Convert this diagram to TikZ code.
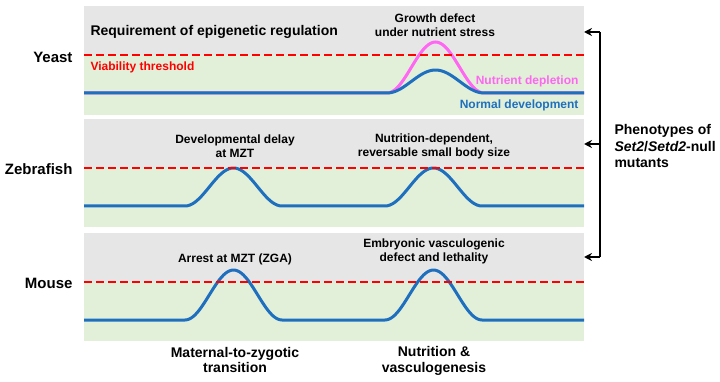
\documentclass[tikz,border=0pt]{standalone}
\usepackage{fontspec}
\setmainfont{Liberation Sans}
\usetikzlibrary{arrows.meta}

\definecolor{panelgray}{HTML}{E7E6E6}
\definecolor{panelgreen}{HTML}{E2F0D9}
\definecolor{curveblue}{HTML}{1F6FBF}
\definecolor{curvepink}{HTML}{FF66F2}

\tikzset{
  species/.style={anchor=east, font=\fontsize{15}{17}\selectfont\bfseries},
  note/.style={align=center, font=\fontsize{12}{14}\selectfont\bfseries},
  axislabel/.style={align=center, font=\fontsize{14}{15.5}\selectfont\bfseries},
  threshold/.style={red, line width=2.8pt, dash pattern=on 8pt off 4pt},
  profile/.style={curveblue, line width=3pt, line join=round},
  pointer/.style={line width=2pt, -{Stealth[length=8pt,width=8pt]}},
}

% bump profile: style, base y, start x, peak height
\newcommand{\bumpline}[4]{%
  \draw[#1] (84,#2) -- (#3,#2)
    -- plot[domain=0:1, samples=41] ({#3+97*\x},{#2-#4*(1-cos(360*\x))/2})
    -- (584,#2);
}
% two bumps on one line: base y, peak height
\newcommand{\twobumps}[2]{%
  \draw[profile] (84,#1) -- (185,#1)
    -- plot[domain=0:1, samples=41] ({185+97*\x},{#1-#2*(1-cos(360*\x))/2})
    -- (385,#1)
    -- plot[domain=0:1, samples=41] ({385+97*\x},{#1-#2*(1-cos(360*\x))/2})
    -- (584,#1);
}

\begin{document}
\begin{tikzpicture}[x=1pt, y=-1pt]
    \useasboundingbox (0,0) rectangle (720,382);

    % Panels: grey above the threshold, green below
    \fill[panelgray]  (84,6)   rectangle (584,55);
    \fill[panelgreen] (84,55)  rectangle (584,115);
    \fill[panelgray]  (84,119) rectangle (584,168);
    \fill[panelgreen] (84,168) rectangle (584,227);
    \fill[panelgray]  (84,233) rectangle (584,282);
    \fill[panelgreen] (84,282) rectangle (584,341);

    % Species labels
    \node[species] (yeast) at (76,57) {Yeast};
    \node[species] (zebrafish) at (76,169) {Zebrafish};
    \node[species] (mouse) at (76,283) {Mouse};

    % Yeast panel
    \bumpline{curvepink, line width=3pt}{93}{387}{51}
    \bumpline{profile}{93}{387}{23}
    \draw[threshold] (84,55) -- (584,55);
    \node[anchor=west, font=\fontsize{14}{16}\selectfont\bfseries] (req) at (87,32) {Requirement of epigenetic regulation};
    \node[anchor=west, red, font=\fontsize{12}{14}\selectfont\bfseries] (viab) at (87,67) {Viability threshold};
    \node[note] (growth) at (435,25) {Growth defect\\under nutrient stress};
    \node[anchor=east, curvepink, font=\fontsize{12}{14}\selectfont\bfseries] (depl) at (582,81) {Nutrient depletion};
    \node[anchor=east, curveblue, font=\fontsize{12}{14}\selectfont\bfseries] (normal) at (582,105) {Normal development};

    % Zebrafish panel
    \twobumps{206}{38}
    \draw[threshold] (84,168) -- (584,168);
    \node[note] (delay) at (235,146.5) {Developmental delay\\at MZT};
    \node[note] (bodysize) at (434,146.5) {Nutrition-dependent,\\reversable small body size};

    % Mouse panel
    \twobumps{320}{50}
    \draw[threshold] (84,282) -- (584,282);
    \node[note] (arrest) at (235,259) {Arrest at MZT (ZGA)};
    \node[note] (vasc) at (434,251) {Embryonic vasculogenic\\defect and lethality};

    % Bottom labels
    \node[axislabel] (mzt) at (235,360) {Maternal-to-zygotic\\transition};
    \node[axislabel] (nutr) at (434,361) {Nutrition \&\\vasculogenesis};

    % Bracket with pointers
    \node[anchor=west, align=left, font=\fontsize{14}{16.5}\selectfont\bfseries] (pheno) at (611,146) {Phenotypes of\\\textit{Set2}/\textit{Setd2}-null\\mutants};
    \coordinate (brtop) at (600,32);
    \coordinate (brmid) at (600,144);
    \coordinate (brbot) at (600,257);
    \coordinate (ytip) at (584,32);
    \coordinate (ztip) at (584,144);
    \coordinate (mtip) at (584,257);
    \draw[line width=2pt] (brtop) -- (brbot);
    \draw[pointer] (brtop) -- (ytip);
    \draw[pointer] (brmid) -- (ztip);
    \draw[pointer] (brbot) -- (mtip);
\end{tikzpicture}
\end{document}
